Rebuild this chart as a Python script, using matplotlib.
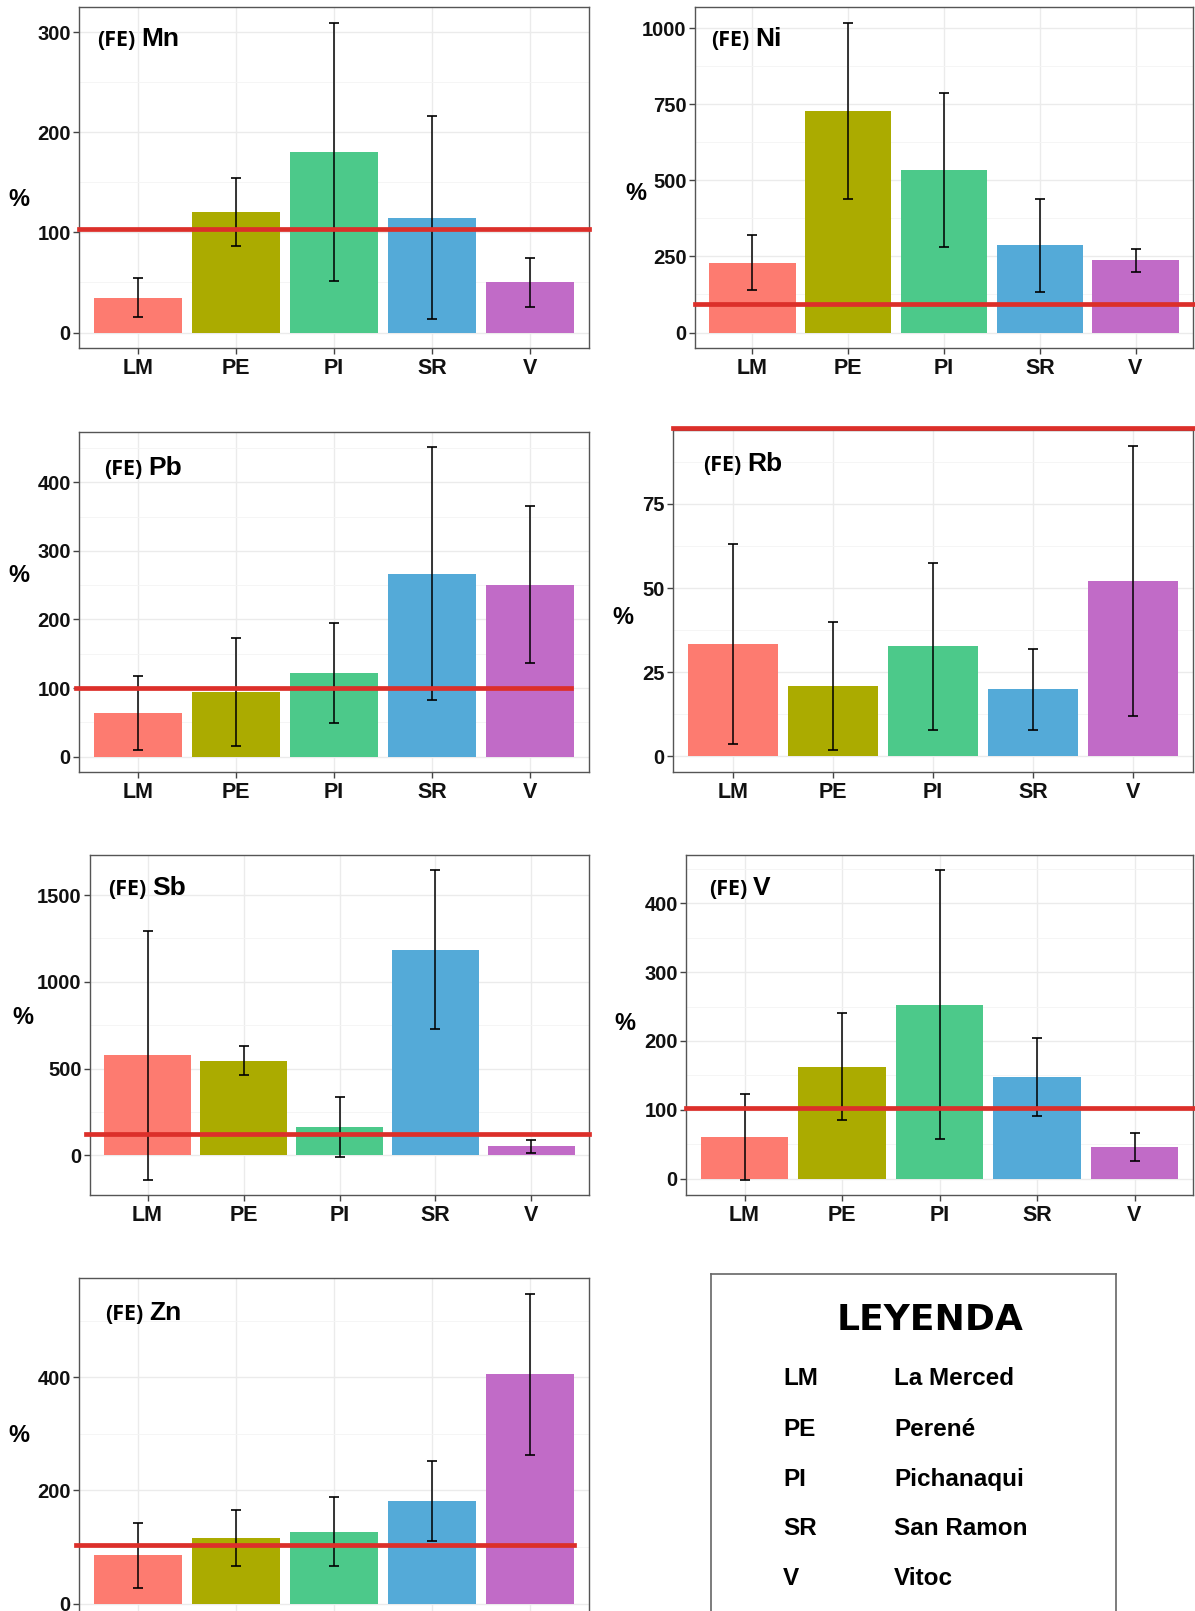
import matplotlib
matplotlib.use('Agg')
import matplotlib.pyplot as plt
import numpy as np

W, H = 1195, 1611

sites = ['LM', 'PE', 'PI', 'SR', 'V']
site_names = ['La Merced', 'Perené', 'Pichanaqui', 'San Ramon', 'Vitoc']
colors = ['#FD7B70', '#ABAB00', '#4CC98A', '#54AAD8', '#C16BC7']

elements = ['Mn', 'Ni', 'Pb', 'Rb', 'Sb', 'V', 'Zn']

# mean and sd (error bar half length) per site, in %
mn_mean = [34.8, 120.5, 180.5, 114.5, 50.0]
mn_sd = [19.5, 33.8, 129.0, 101.3, 24.3]
ni_mean = [230, 729, 534, 287, 237]
ni_sd = [89, 290, 253, 153, 39]
pb_mean = [63.5, 94, 122, 267, 251]
pb_sd = [54, 79, 73, 184, 115]
rb_mean = [33.4, 21.0, 32.7, 19.9, 52.1]
rb_sd = [29.6, 19.0, 24.7, 11.9, 40.2]
sb_mean = [577, 546, 163, 1186, 52]
sb_sd = [716, 83, 172, 456, 37]
v_mean = [60.5, 162.5, 253, 147.5, 45.5]
v_sd = [62, 78, 195, 56.7, 20]
zn_mean = [85, 116, 127, 181.5, 405]
zn_sd = [58, 49, 61, 70.5, 143]

# red reference line level, %
ref_level = [103, 95, 100, 97.4, 126, 103, 103]

yticks = [[0, 100, 200, 300],
          [0, 250, 500, 750, 1000],
          [0, 100, 200, 300, 400],
          [0, 25, 50, 75],
          [0, 500, 1000, 1500],
          [0, 100, 200, 300, 400],
          [0, 200, 400]]

means = [mn_mean, ni_mean, pb_mean, rb_mean, sb_mean, v_mean, zn_mean]
sds = [mn_sd, ni_sd, pb_sd, rb_sd, sb_sd, v_sd, zn_sd]

# layout in figure pixels: axes box (l, t, r, b), "%" pos, label (left, center y), red line span
boxes = [(79, 7, 589, 348), (695, 7, 1193, 348),
         (79, 432, 589, 772), (673, 430, 1193, 772),
         (90, 855, 589, 1195), (686, 855, 1193, 1195),
         (79, 1278, 589, 1619)]
pct_pos = [(19, 199), (636, 194), (19, 575), (623, 617),
           (23, 1018), (625, 1024), (19, 1436)]
lab_pos = [(97, 38), (711, 38), (104, 467), (703, 463),
           (108, 887), (709, 887), (105, 1312)]
red_span = [(0, 1), (0, 1), (-0.006, 0.965), (0, 1),
            (-0.008, 1), (0, 1), (-0.006, 0.97)]

plt.rcParams['font.family'] = ['Liberation Sans', 'DejaVu Sans']
plt.rcParams['font.weight'] = 'bold'

fig = plt.figure(figsize=(W / 100, H / 100), dpi=100)


def px_axes(l, t, r, b):
    return fig.add_axes([l / W, 1 - b / H, (r - l) / W, (b - t) / H])


x = np.arange(1, 6)
labels = []
for i, el in enumerate(elements):
    ax = px_axes(*boxes[i])
    m = np.array(means[i])
    s = np.array(sds[i])
    ax.bar(x, m, width=0.9, color=colors, zorder=2)
    ax.errorbar(x, m, yerr=s, fmt='none', ecolor='black', elinewidth=1.1,
                capsize=3.6, capthick=1.2, zorder=4)
    ax.axhline(ref_level[i], red_span[i][0], red_span[i][1], color='#DC2F2A',
               lw=3.4, zorder=5, clip_on=False)
    ax.set_xticks(x)
    ax.set_xticklabels(sites)
    ax.set_yticks(yticks[i])
    yt = yticks[i]
    minor = [(a + b) / 2 for a, b in zip(yt[:-1], yt[1:])]
    minor.append(yt[-1] + (yt[1] - yt[0]) / 2)
    ax.set_yticks(minor, minor=True)
    # ggplot-like 5% expansion around the data
    lo = min(0, (m - s).min())
    hi = (m + s).max()
    pad = 0.05 * (hi - lo)
    ax.set_ylim(lo - pad, hi + pad)
    ax.set_xlim(0.4, 5.6)
    ax.tick_params(which='minor', length=0)
    ax.tick_params(which='major', length=4, width=1, color='#444444',
                   labelsize=14.5, pad=2, labelcolor='#111111')
    ax.tick_params(axis='x', labelsize=15.5, pad=3)
    if el == 'Zn':
        # bottom of this panel is cut off by the figure edge
        ax.tick_params(axis='x', labelbottom=False)
    ax.grid(which='major', color='#EBEBEB', lw=1.0, zorder=0)
    ax.grid(which='minor', axis='y', color='#F4F4F4', lw=0.6, zorder=0)
    ax.set_axisbelow(True)
    for sp in ax.spines.values():
        sp.set_color('#555555')
        sp.set_linewidth(1.0)
    fig.text(pct_pos[i][0] / W, 1 - pct_pos[i][1] / H, '%', fontsize=17,
             fontweight='bold', ha='center', va='center')
    lx, ly = lab_pos[i]
    t1 = fig.text(lx / W, 1 - (ly + 8) / H, '(FE)', family=['Open Sans', 'DejaVu Sans'],
                  fontsize=15.5, fontweight='bold', va='baseline')
    labels.append((t1, el, ly))

fig.canvas.draw()
for t1, el, ly in labels:
    ext = t1.get_window_extent()
    fig.text((ext.x1 + 6) / W, 1 - (ly + 8) / H, el, fontsize=19,
             fontweight='bold', va='baseline')

# legend box
lax = px_axes(711, 1274, 1116, 1660)
lax.set_xticks([])
lax.set_yticks([])
for sp in lax.spines.values():
    sp.set_color('#666666')
    sp.set_linewidth(1.2)
fig.text(930 / W, 1 - 1330 / H, 'LEYENDA', family=['DejaVu Sans'], fontsize=26,
         fontweight='heavy', ha='center', va='baseline')
row_y = [1376, 1427, 1477, 1526, 1576]
for code, name, yy in zip(sites, site_names, row_y):
    fig.text(783 / W, 1 - (yy + 9) / H, code, fontsize=17.5, fontweight='bold',
             va='baseline')
    fig.text(894 / W, 1 - (yy + 9) / H, name, fontsize=17.5, fontweight='bold',
             va='baseline')

fig.savefig('out.png', dpi=100)
